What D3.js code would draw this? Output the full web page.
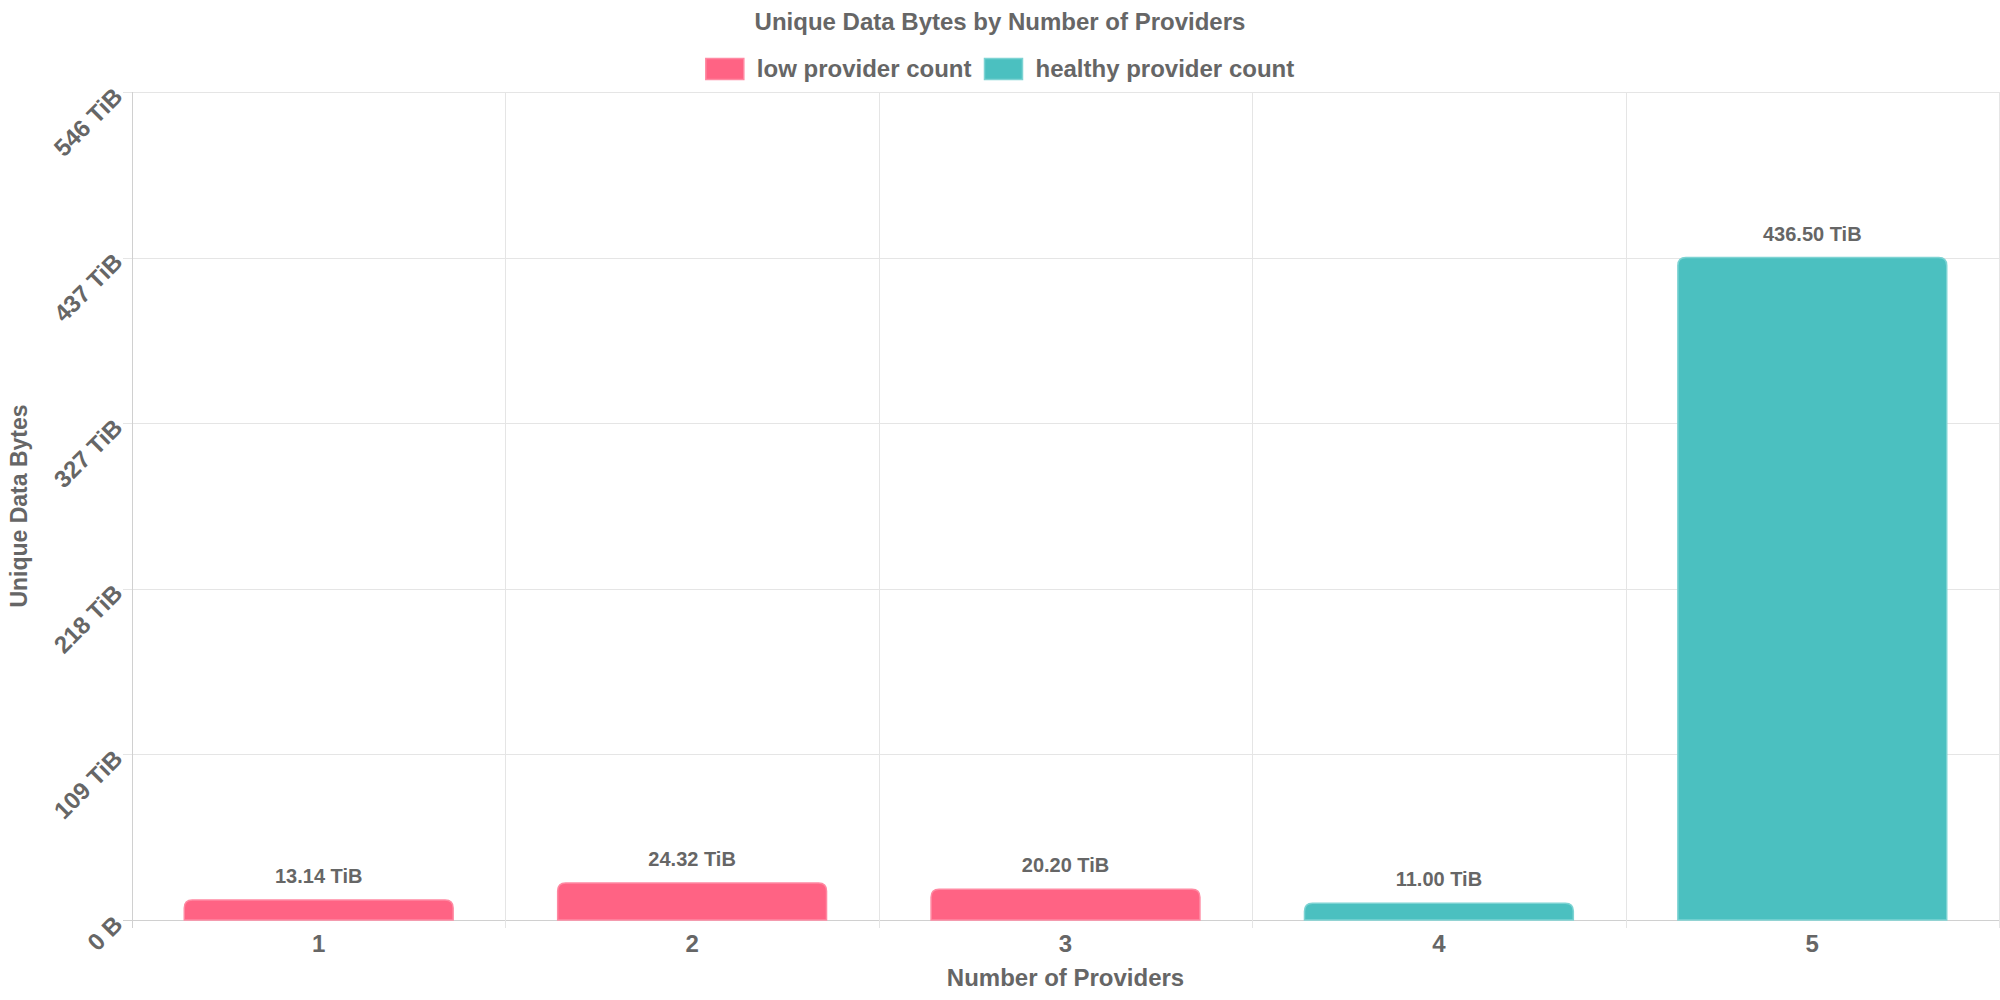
<!DOCTYPE html>
<html>
<head>
<meta charset="utf-8">
<script src="https://cdn.jsdelivr.net/npm/d3@7/dist/d3.min.js"></script>
<style>
  body { margin: 0; background: #fff; }
  text { font-family: "Liberation Sans", Arial, sans-serif; font-weight: bold; fill: #666; }
</style>
</head>
<body>
<div id="chart"></div>
<script>
// chart data
const categories = ['1', '2', '3', '4', '5'];
const values = [13.14, 24.32, 20.20, 11.00, 436.50]; // TiB
const status = ['low', 'low', 'low', 'healthy', 'healthy'];
const yTicks = [0, 109.125, 218.25, 327.375, 436.5, 545.625];
const yTickLabels = ['0 B', '109 TiB', '218 TiB', '327 TiB', '437 TiB', '546 TiB'];
const seriesNames = ['low provider count', 'healthy provider count'];
const seriesKeys = ['low', 'healthy'];

const width = 2000;
const height = 1000;
const margin = { top: 92, right: 1, bottom: 80, left: 132 };

const fillColor = { low: '#ff6384', healthy: '#4bc0c0' };
const edgeColor = { low: '#ff89a2', healthy: '#7dd3d3' };

const svg = d3.select('#chart')
  .append('svg')
  .attr('width', width)
  .attr('height', height);

const x = d3.scaleBand()
  .domain(categories)
  .range([margin.left, width - margin.right])
  .padding(0);

const y = d3.scaleLinear()
  .domain([0, yTicks[yTicks.length - 1]])
  .range([height - margin.bottom, margin.top]);

const plotBottom = y(0);
const plotTop = y.range()[1];

// horizontal grid + y ticks
svg.append('g')
  .selectAll('line')
  .data(yTicks)
  .enter().append('line')
    .attr('x1', margin.left - 9)
    .attr('x2', width - margin.right)
    .attr('y1', (d) => Math.round(y(d)) + 0.5)
    .attr('y2', (d) => Math.round(y(d)) + 0.5)
    .attr('stroke', (d) => d === 0 ? '#d0d0d0' : '#e5e5e5')
    .attr('stroke-width', 1);

// vertical grid at category boundaries (extends below axis as ticks)
const bounds = categories.map((c) => x(c)).concat([x(categories[categories.length - 1]) + x.bandwidth()]);
svg.append('g')
  .selectAll('line')
  .data(bounds)
  .enter().append('line')
    .attr('x1', (d) => Math.round(d) + 0.5)
    .attr('x2', (d) => Math.round(d) + 0.5)
    .attr('y1', plotTop)
    .attr('y2', plotBottom + 8)
    .attr('stroke', (d, i) => i === 0 ? '#d0d0d0' : '#e5e5e5')
    .attr('stroke-width', 1);

// y tick labels, rotated
svg.append('g')
  .selectAll('text')
  .data(yTicks)
  .enter().append('text')
    .attr('transform', (d) => `translate(${margin.left - 14},${y(d)}) rotate(-45)`)
    .attr('text-anchor', 'end')
    .attr('dy', '0.35em')
    .style('font-size', '24px')
    .text((d, i) => yTickLabels[i]);

// x tick labels
svg.append('g')
  .selectAll('text')
  .data(categories)
  .enter().append('text')
    .attr('x', (d) => x(d) + x.bandwidth() / 2)
    .attr('y', plotBottom + 24)
    .attr('text-anchor', 'middle')
    .attr('dy', '0.35em')
    .style('font-size', '24px')
    .text((d) => d);

// bars with rounded top corners
const barW = x.bandwidth() * 0.72;
function barPath(d, i) {
  const x0 = x(categories[i]) + (x.bandwidth() - barW) / 2;
  const x1 = x0 + barW;
  const yt = y(d);
  const yb = plotBottom;
  const r = Math.min(8, (yb - yt) / 2);
  return `M${x0},${yb}L${x0},${yt + r}Q${x0},${yt} ${x0 + r},${yt}` +
    `L${x1 - r},${yt}Q${x1},${yt} ${x1},${yt + r}L${x1},${yb}Z`;
}

svg.append('g')
  .selectAll('path')
  .data(values)
  .enter().append('path')
    .attr('d', barPath)
    .attr('fill', (d, i) => fillColor[status[i]])
    .attr('stroke', (d, i) => edgeColor[status[i]])
    .attr('stroke-width', 1.5);

// value labels
svg.append('g')
  .selectAll('text')
  .data(values)
  .enter().append('text')
    .attr('x', (d, i) => x(categories[i]) + x.bandwidth() / 2)
    .attr('y', (d) => y(d) - 17)
    .attr('text-anchor', 'middle')
    .style('font-size', '20px')
    .text((d) => `${d.toFixed(2)} TiB`);

// title
svg.append('text')
  .attr('x', width / 2)
  .attr('y', 22)
  .attr('text-anchor', 'middle')
  .attr('dy', '0.35em')
  .style('font-size', '24px')
  .text('Unique Data Bytes by Number of Providers');

// legend
const legend = svg.append('g');
const items = legend.selectAll('g')
  .data(seriesKeys)
  .enter().append('g');
items.append('rect')
  .attr('width', 38)
  .attr('height', 21)
  .attr('y', 69 - 10.5)
  .attr('fill', (d) => fillColor[d])
  .attr('stroke', (d) => edgeColor[d])
  .attr('stroke-width', 1.5);
items.append('text')
  .attr('x', 51)
  .attr('y', 69)
  .attr('dy', '0.35em')
  .style('font-size', '24px')
  .text((d, i) => seriesNames[i]);

let offset = 0;
const widths = [];
items.each(function () {
  widths.push(51 + this.querySelector('text').getComputedTextLength());
});
const total = d3.sum(widths) + 13 * (widths.length - 1);
offset = width / 2 - total / 2;
items.attr('transform', (d, i) => {
  const tx = offset;
  offset += widths[i] + 13;
  return `translate(${tx},0)`;
});

// axis titles
svg.append('text')
  .attr('x', (margin.left + width - margin.right) / 2)
  .attr('y', 978)
  .attr('text-anchor', 'middle')
  .attr('dy', '0.35em')
  .style('font-size', '24px')
  .text('Number of Providers');

svg.append('text')
  .attr('transform', `translate(19,${(plotTop + plotBottom) / 2}) rotate(-90)`)
  .attr('text-anchor', 'middle')
  .attr('dy', '0.35em')
  .style('font-size', '23px')
  .text('Unique Data Bytes');
</script>
</body>
</html>
